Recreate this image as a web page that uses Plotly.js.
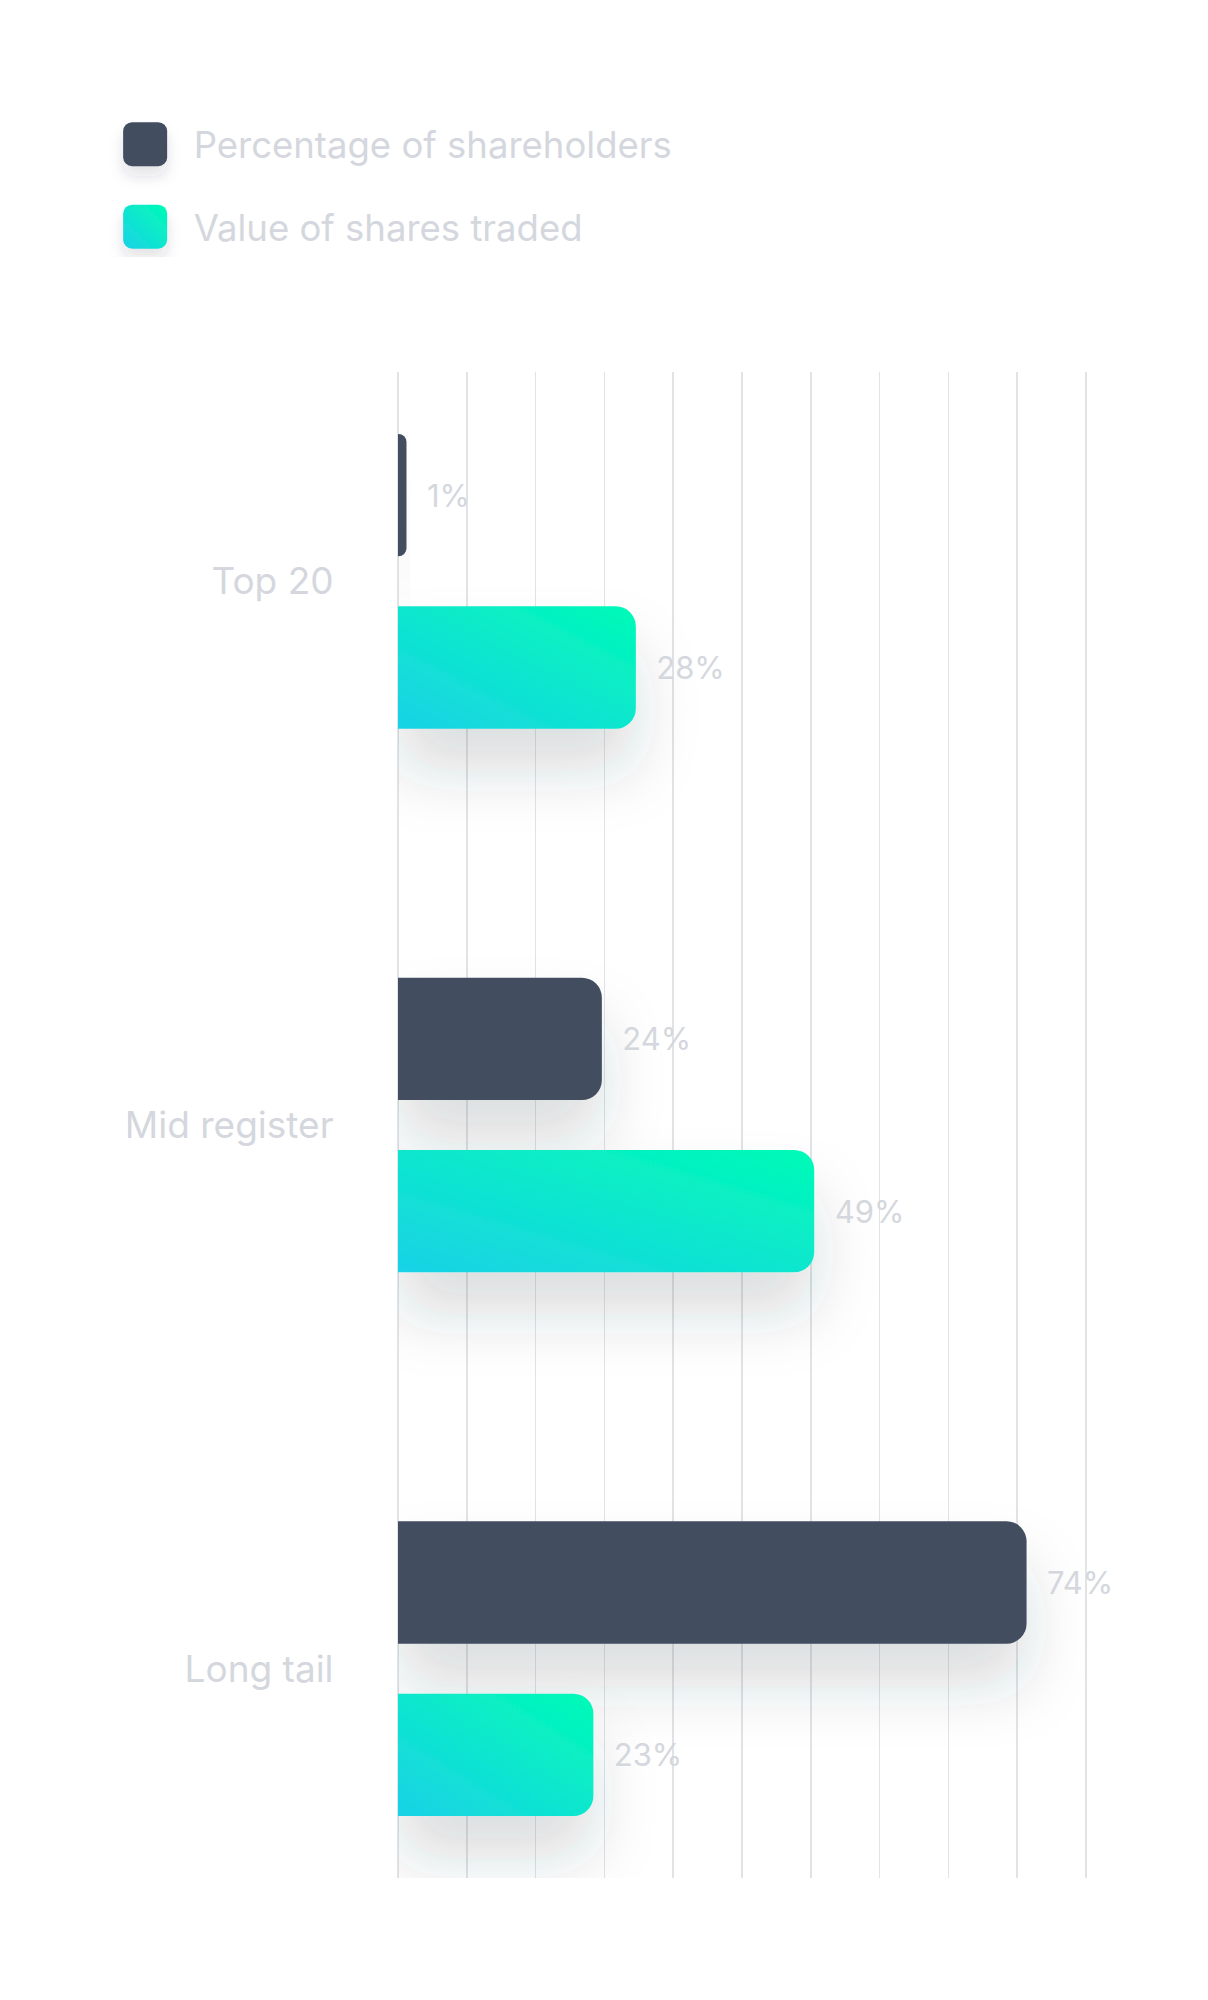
<!DOCTYPE html>
<html>
<head>
<meta charset="utf-8">
<script src="https://cdn.plot.ly/plotly-3.0.1.min.js"></script>
<style>
  html, body { margin: 0; padding: 0; background: #ffffff; }
  #chart { width: 1208px; height: 2000px; }
</style>
</head>
<body>
<div id="chart"></div>
<script>
// ---- data ----
const categories = ['Top 20', 'Mid register', 'Long tail'];
const shareholdersPct = [1, 24, 74];
const valueTradedPct = [28, 49, 23];
const seriesNames = ['Percentage of shareholders', 'Value of shares traded'];

// ---- style ----
const FONT = 'Inter, "Noto Sans", sans-serif';
const TEXT_GREY = '#D4D7DD';
const DARK = '#424E5F';
const MINT = '#0DE6D0';
const X_MAX = 81;          // last grid line
const X_RANGE_END = 81.35; // a little beyond so the last grid line is drawn

const traces = [
  {
    type: 'bar', orientation: 'h', name: seriesNames[0], legendgroup: 'a',
    y: categories, x: shareholdersPct,
    marker: { color: DARK, cornerradius: 20, line: { width: 0 } },
    texttemplate: '\u00a0\u00a0%{x}%', textposition: 'outside', cliponaxis: false,
    constraintext: 'none',
    textfont: { family: FONT, size: 31, color: TEXT_GREY },
    hoverinfo: 'skip'
  },
  {
    type: 'bar', orientation: 'h', name: seriesNames[1], legendgroup: 'b',
    y: categories, x: valueTradedPct,
    marker: { color: MINT, cornerradius: 20, line: { width: 0 } },
    texttemplate: '\u00a0\u00a0%{x}%', textposition: 'outside', cliponaxis: false,
    constraintext: 'none',
    textfont: { family: FONT, size: 31, color: TEXT_GREY },
    hoverinfo: 'skip'
  }
];

const layout = {
  width: 1208, height: 2000,
  margin: { l: 398, r: 119, t: 372, b: 122, pad: 0, autoexpand: false },
  paper_bgcolor: '#ffffff', plot_bgcolor: '#ffffff',
  font: { family: FONT, color: TEXT_GREY },
  barmode: 'group', bargap: 0.366, bargroupgap: 0.29,
  xaxis: {
    range: [0, X_RANGE_END], tick0: 0, dtick: X_MAX / 10,
    showticklabels: false, ticks: '',
    showgrid: true, gridcolor: '#E1E3E6', gridwidth: 1.5,
    zeroline: true, zerolinecolor: '#E1E3E6', zerolinewidth: 1.5,
    showline: false, fixedrange: true, automargin: false
  },
  yaxis: {
    type: 'category', range: [2.385, -0.385],
    ticks: 'outside', ticklen: 56, tickcolor: 'rgba(0,0,0,0)',
    tickfont: { family: FONT, size: 37, color: TEXT_GREY },
    showgrid: false, zeroline: false, showline: false, fixedrange: true, automargin: false
  },
  showlegend: true,
  legend: {
    xref: 'container', yref: 'container',
    x: 0.08, y: 0.943, xanchor: 'left', yanchor: 'top',
    orientation: 'v', traceorder: 'grouped', tracegroupgap: 32,
    itemwidth: 87, itemclick: false, itemdoubleclick: false,
    bgcolor: 'rgba(0,0,0,0)', borderwidth: 0,
    font: { family: FONT, size: 36.5, color: TEXT_GREY }
  }
};

const gd = document.getElementById('chart');
Plotly.newPlot(gd, traces, layout, { displayModeBar: false, staticPlot: true }).then(() => {
  const NS = 'http://www.w3.org/2000/svg';
  const svg = gd.querySelector('svg.main-svg');
  let defs = svg.querySelector('defs');
  if (!defs) defs = svg.insertBefore(document.createElementNS(NS, 'defs'), svg.firstChild);
  defs.insertAdjacentHTML('beforeend',
    '<linearGradient id="mintGrad" x1="0" y1="1" x2="1" y2="0" gradientUnits="objectBoundingBox">' +
      '<stop offset="0" stop-color="#1AD2E6"/><stop offset="1" stop-color="#00FBB6"/>' +
    '</linearGradient>' +
    '<filter id="barShadow" x="-40%" y="-60%" width="180%" height="300%">' +
      '<feDropShadow dx="0" dy="42" stdDeviation="30" flood-color="#2A3440" flood-opacity="0.17"/>' +
    '</filter>' +
    '<filter id="legShadow" x="-60%" y="-60%" width="220%" height="260%">' +
      '<feDropShadow dx="0" dy="10" stdDeviation="7" flood-color="#2A3440" flood-opacity="0.13"/>' +
    '</filter>');

  const barTraces = gd.querySelectorAll('.barlayer .trace');
  barTraces.forEach((t, i) => {
    t.querySelectorAll('.point path').forEach(p => {
      if (i === 1) p.style.fill = 'url(#mintGrad)';
      p.setAttribute('filter', 'url(#barShadow)');
    });
  });

  const r = 22, c = 9;
  const sq = `M${-r},${-r + c}A${c},${c} 0 0 1 ${-r + c},${-r}H${r - c}A${c},${c} 0 0 1 ${r},${-r + c}` +
             `V${r - c}A${c},${c} 0 0 1 ${r - c},${r}H${-r + c}A${c},${c} 0 0 1 ${-r},${r - c}Z`;
  const legendItems = gd.querySelectorAll('.legend .traces');
  legendItems.forEach((item, i) => {
    item.querySelectorAll('.legendpoints path').forEach(p => {
      p.setAttribute('d', sq);
      p.style.fill = i === 1 ? 'url(#mintGrad)' : DARK;
      p.style.stroke = 'none';
      p.setAttribute('filter', 'url(#legShadow)');
    });
  });
});
</script>
</body>
</html>
